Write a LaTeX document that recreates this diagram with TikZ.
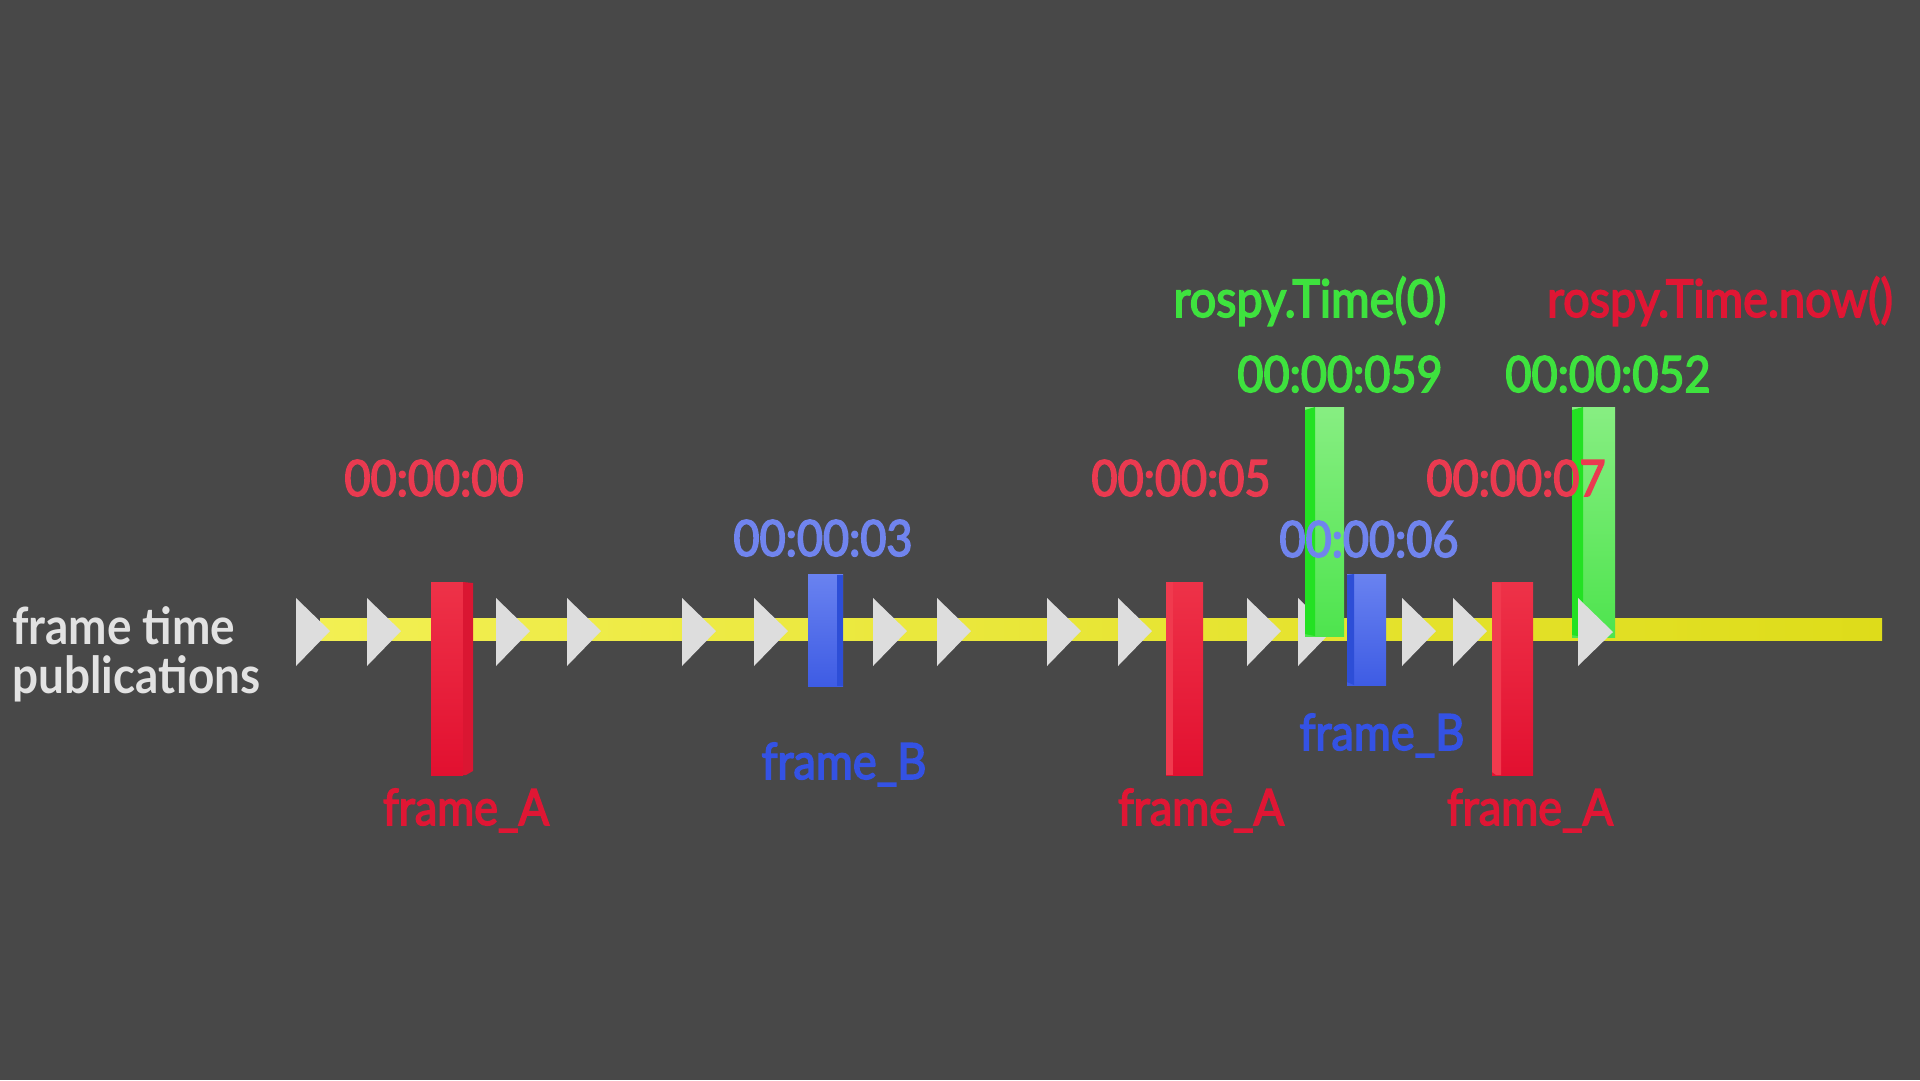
\documentclass[tikz,border=0pt]{standalone}
\usepackage{fontspec}
\setmainfont{Lato}
\newfontfamily\gsans[FakeStretch=0.9,FakeBold=3]{Lato}
\newfontfamily\gsansb[FakeStretch=0.9]{Lato Bold}
\definecolor{bg}{RGB}{72,72,72}
\definecolor{tri}{RGB}{221,221,221}
\definecolor{yelA}{RGB}{242,239,82}
\definecolor{yelB}{RGB}{222,220,26}
\definecolor{redtop}{RGB}{238,50,72}
\definecolor{redbot}{RGB}{226,16,48}
\definecolor{redside}{RGB}{218,22,50}
\definecolor{redsideL}{RGB}{240,58,78}
\definecolor{bluetop}{RGB}{105,130,240}
\definecolor{bluebot}{RGB}{62,92,228}
\definecolor{blueside}{RGB}{45,78,215}
\definecolor{greentop}{RGB}{135,238,130}
\definecolor{greenbot}{RGB}{78,228,78}
\definecolor{greenside}{RGB}{35,225,35}
\definecolor{tred}{RGB}{234,58,80}
\definecolor{fred}{RGB}{224,22,52}
\definecolor{tblue}{RGB}{112,132,238}
\definecolor{fblue}{RGB}{52,82,228}
\definecolor{tgreen}{RGB}{62,226,62}
\definecolor{lgray}{RGB}{226,226,226}
\begin{document}
\begin{tikzpicture}[x=1pt,y=-1pt,
  lbl/.style={font=\gsans\fontsize{50}{56}\selectfont, anchor=base, inner sep=0pt},
  side label/.style={font=\gsansb\fontsize{51}{56}\selectfont, anchor=base west, inner sep=0pt, text=lgray},
  stamp red/.style={lbl, text=tred},
  stamp blue/.style={lbl, text=tblue},
  stamp green/.style={lbl, text=tgreen},
  name red/.style={lbl, text=fred},
  name blue/.style={lbl, text=fblue},
  tick/.style={fill=tri},
  redface/.style={top color=redtop, bottom color=redbot},
  blueface/.style={top color=bluetop, bottom color=bluebot},
  greenface/.style={top color=greentop, bottom color=greenbot}]
\useasboundingbox (0,0) rectangle (1920,1080);
\fill[bg] (0,0) rectangle (1920,1080);

% timeline
\fill[left color=yelA, right color=yelB] (320,618) rectangle (1882,640);

% publication ticks
\foreach \x in {296,367,496,567,682,754,873,937,1047,1118,1247,1298,1402,1453}
  \fill[tick] (\x,598) -- (\x+34,631) -- (\x,666) -- cycle;

% frame_A bars
\fill[redface] (431,582) rectangle (463,775);
\fill[redside] (463,582) -- (473,583) -- (473,771) -- (466,775) -- (463,775) -- cycle;
\fill[redface] (1166,582) rectangle (1203,775);
\fill[redsideL] (1166,582) rectangle (1173,775);
\fill[redface] (1492,582) rectangle (1533,775);
\fill[redsideL] (1492,582) -- (1501,583) -- (1501,775) -- (1496,775) -- (1492,772) -- cycle;

% frame_B bars
\fill[blueface] (808,574) rectangle (843,686);
\fill[blueside] (837,575) rectangle (843,686);
\fill[blueface] (1347,574) rectangle (1386,685);
\fill[blueside] (1347,575) -- (1354,574) -- (1354,685) -- (1347,682) -- cycle;

% rospy bars
\fill[greenface] (1305,407) rectangle (1344,636);
\fill[greenside] (1305,410) -- (1315,407) -- (1315,636) -- (1305,634) -- cycle;
\fill[greenface] (1572,407) rectangle (1615,637);
\fill[greenside] (1572,410) -- (1583,407) -- (1583,637) -- (1572,635) -- cycle;

% tick in front of the last bar
\fill[tick] (1578,598) -- (1613,632) -- (1578,666) -- cycle;

% side label
\node[side label] (lab1) at (12,644) {frame time};
\node[side label] (lab2) at (12,693) {publications};

% time stamps
\node[stamp red] (t00) at (434,496) {00:00:00};
\node[stamp blue] (t03) at (823,556) {00:00:03};
\node[stamp red] (t05) at (1181,496) {00:00:05};
\node[stamp blue] (t06) at (1369,557) {00:00:06};
\node[stamp red] (t07) at (1516,496) {00:00:07};
\node[stamp green] (t059) at (1340,392) {00:00:059};
\node[stamp green] (t052) at (1608,392) {00:00:052};

% frame names
\node[name red] (fa1) at (466,825) {frame\_A};
\node[name blue] (fb1) at (844,779) {frame\_B};
\node[name red] (fa2) at (1201,825) {frame\_A};
\node[name blue] (fb2) at (1382,750) {frame\_B};
\node[name red] (fa3) at (1530,825) {frame\_A};

% calls
\node[stamp green, font=\gsans\fontsize{52}{58}\selectfont] (r0) at (1310,317) {rospy.Time(0)};
\node[name red, font=\gsans\fontsize{52}{58}\selectfont] (rn) at (1720,317) {rospy.Time.now()};
\end{tikzpicture}
\end{document}
